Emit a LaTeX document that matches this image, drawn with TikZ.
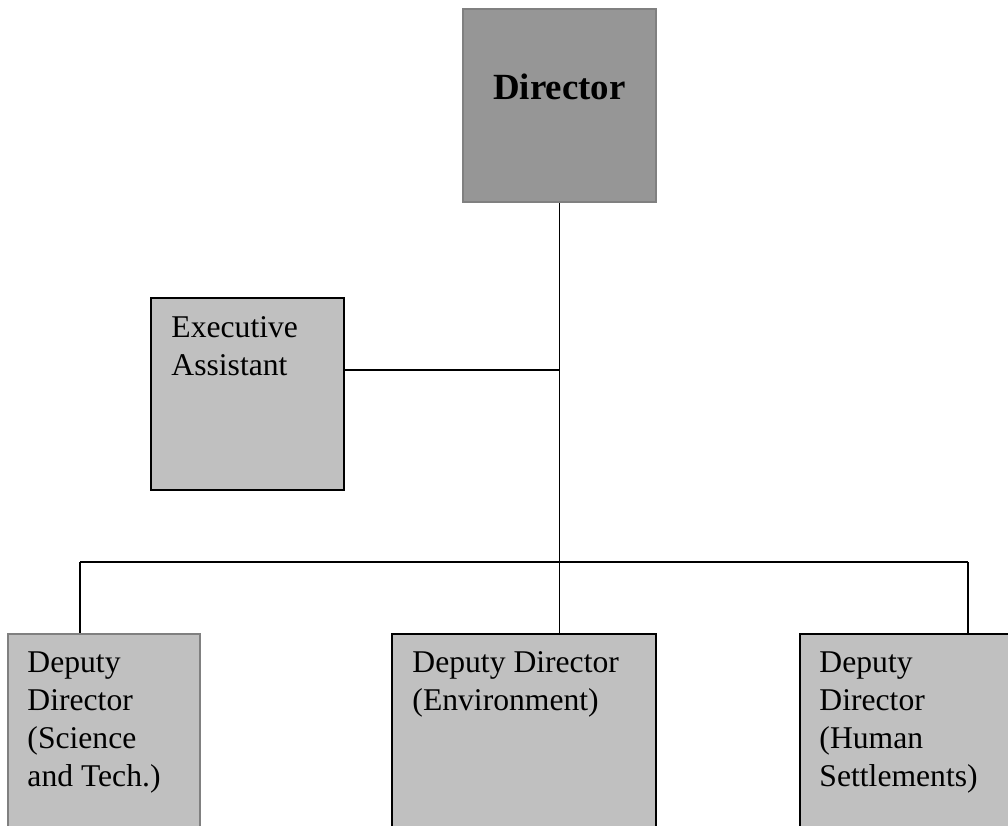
\documentclass[tikz,border=0pt]{standalone}
\usepackage{fontspec}
\setmainfont{Liberation Serif}
\usetikzlibrary{positioning}
\definecolor{bossgray}{HTML}{969696}
\definecolor{boxgray}{HTML}{C0C0C0}
\definecolor{edgegray}{HTML}{808080}

\begin{document}
\begin{tikzpicture}[
  unitbox/.style={rectangle, draw=black, fill=boxgray, line width=1pt, inner sep=0pt},
  lbl/.style={inner sep=0pt, align=left, font=\fontsize{18}{21.6}\selectfont}
]
\useasboundingbox (0,0) rectangle (20.16,-16.5);

% Boxes without text - text is added separately
\node[unitbox, draw=edgegray, fill=bossgray, minimum width=3.86cm, minimum height=3.86cm] (boss) at (11.19,-2.11) {};
\node[unitbox, minimum width=3.86cm, minimum height=3.84cm] (exec) at (4.95,-7.88) {};
\node[unitbox, draw=edgegray, minimum width=3.84cm, minimum height=3.92cm] (sci) at (2.08,-14.64) {};
\node[unitbox, minimum width=5.28cm, minimum height=3.92cm] (env) at (10.48,-14.64) {};
\node[unitbox, minimum width=4.3cm, minimum height=3.92cm] (hum) at (18.15,-14.64) {};

% Add text inside boxes
\node[font=\fontsize{21}{25}\selectfont\bfseries, anchor=base] at ([yshift=0.13cm]boss.center) {Director};
\node[lbl, below right=0.38cm and 0.42cm of exec.north west] {Executive\\Assistant};
\node[lbl, below right=0.36cm and 0.4cm of sci.north west] {Deputy\\Director\\(Science\\and Tech.)};
\node[lbl, below right=0.36cm and 0.42cm of env.north west] {Deputy Director\\(Environment)};
\node[lbl, below right=0.36cm and 0.4cm of hum.north west] {Deputy\\Director\\(Human\\Settlements)};

% Connectors
\coordinate (tap) at (boss.south |- 0,-7.4);
\coordinate (bus) at (boss.south |- 0,-11.24);
\coordinate (busL) at (1.6,-11.24);
\coordinate (busR) at (19.36,-11.24);
\draw[line width=1pt] (boss.south) -- (bus);
\draw[line width=1pt] (exec.east |- tap) -- (tap);
\draw[line width=1pt] (busL) -- (busR);
\draw[line width=1pt] (busL) -- (busL |- sci.north);
\draw[line width=1pt] (bus) -- (bus |- env.north);
\draw[line width=1pt] (busR) -- (busR |- hum.north);
\end{tikzpicture}
\end{document}
